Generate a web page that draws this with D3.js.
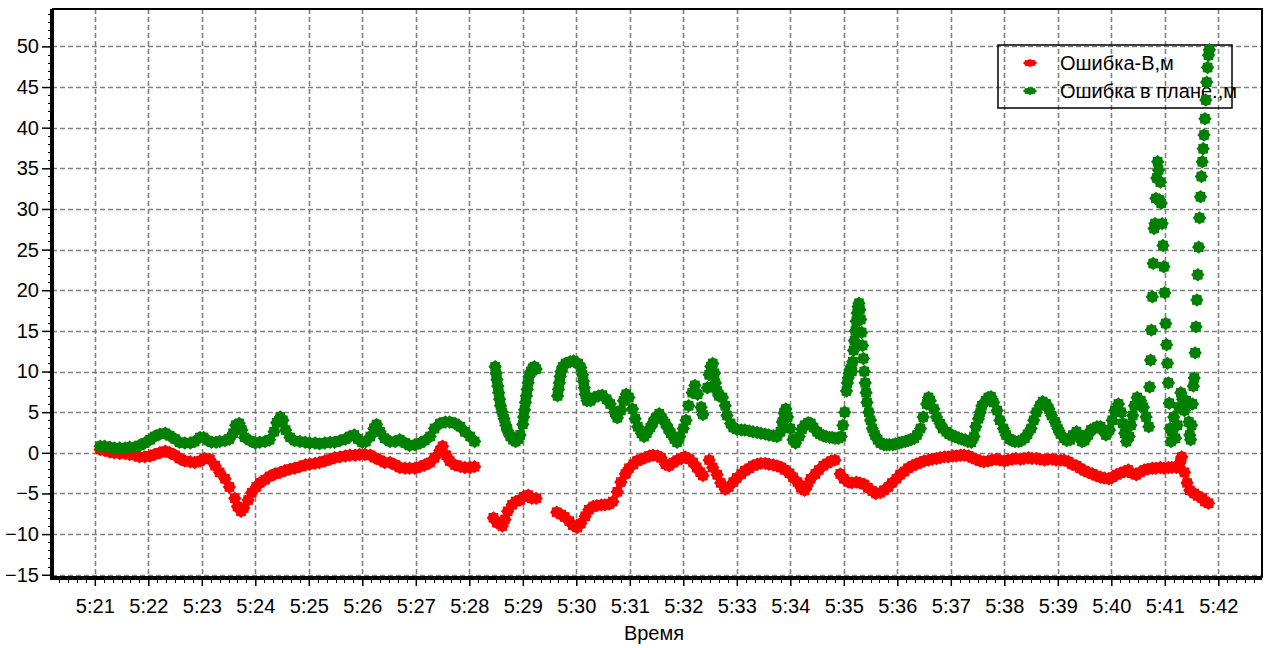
<!DOCTYPE html>
<html lang="ru">
<head>
<meta charset="utf-8">
<title>Ошибка</title>
<script src="https://d3js.org/d3.v7.min.js"></script>
<style>
  body { margin: 0; background: #fff; }
  svg text { font-family: "Liberation Sans", Arial, sans-serif; font-size: 20px; fill: #000; }
</style>
</head>
<body>
<svg id="chart" width="1273" height="648"></svg>
<script>
// [seconds after 5:21:00, error in metres]
const errHeight = [
  [6,0.4],[11,0.3],[17,0.1],[22,0],[28,-0.1],[34,-0.1],[39,-0.2],[45,-0.3],[50,-0.5],[56,-0.5],
  [62,-0.4],[67,-0.2],[73,0],[79,0.2],[84,0],[90,-0.3],[95,-0.7],[101,-1],[107,-1.1],[112,-1.2],
  [118,-1],[123,-0.7],[129,-0.8],[135,-1.6],[140,-2.4],[146,-3.2],[151,-4.2],[157,-5.6],[160,-6.6],[164,-7.2],
  [167,-6.8],[172,-5.8],[176,-4.9],[181,-4.2],[185,-3.7],[191,-3.3],[196,-2.9],[202,-2.6],[208,-2.4],[213,-2.2],
  [219,-2],[224,-1.9],[230,-1.7],[236,-1.5],[241,-1.4],[247,-1.3],[252,-1.2],[258,-1],[264,-0.8],[269,-0.6],
  [275,-0.5],[281,-0.4],[286,-0.3],[292,-0.3],[297,-0.2],[303,-0.2],[309,-0.3],[314,-0.6],[320,-0.9],[325,-1.2],
  [331,-1.2],[337,-1.5],[342,-1.8],[348,-1.9],[353,-1.9],[359,-1.9],[365,-1.7],[370,-1.5],[376,-1.2],[381,-0.6],
  [387,0.3],[390,0.8],[394,-0.3],[398,-1],[404,-1.5],[410,-1.7],[415,-1.8],[421,-1.8],[426,-1.7],
  [447,-8],[451,-8.6],[457,-9],[460,-8.2],[463,-7.2],[468,-6.4],[472,-6],[477,-5.8],[481,-5.4],[486,-5.2],
  [490,-5.6],[495,-5.6],
  [518,-7.3],[523,-7.6],[527,-7.9],[532,-8.4],[536,-8.9],[541,-9.2],[545,-8.7],[550,-7.8],[554,-7],[559,-6.6],
  [563,-6.5],[568,-6.4],[572,-6.4],[577,-6.3],[581,-6],[586,-4.8],[590,-3.6],[595,-2.6],[599,-1.9],[604,-1.4],
  [608,-1],[613,-0.8],[617,-0.6],[622,-0.4],[626,-0.3],[631,-0.4],[635,-0.6],[640,-1.4],[644,-1.6],[649,-1.2],
  [653,-0.9],[658,-0.7],[662,-0.5],[667,-0.8],[671,-1.2],[675,-1.8],[679,-2.4],[682,-2.8],
  [689,-0.9],[693,-1.8],[698,-2.7],[702,-3.7],[707,-4.5],[711,-4.2],[716,-3.6],[720,-3.1],[725,-2.6],[729,-2.2],
  [734,-1.9],[738,-1.6],[743,-1.4],[747,-1.3],[752,-1.3],[756,-1.4],[761,-1.5],[765,-1.6],[770,-1.8],[774,-2.1],
  [779,-2.5],[783,-3],[788,-3.6],[792,-4.3],[796,-4.6],[799,-4],[803,-3.2],[808,-2.6],[812,-2.1],[817,-1.6],
  [821,-1.3],[826,-1],[830,-0.9],
  [836,-2.6],[840,-3.2],[845,-3.6],[849,-3.7],[854,-3.6],[858,-3.7],[863,-3.9],[867,-4.3],[872,-4.7],[876,-5],
  [881,-4.9],[885,-4.6],[890,-4.2],[894,-3.7],[899,-3.2],[903,-2.7],[908,-2.3],[912,-1.9],[917,-1.6],[921,-1.4],
  [926,-1.2],[930,-1],[935,-0.9],[939,-0.8],[944,-0.7],[948,-0.6],[953,-0.5],[957,-0.5],[962,-0.4],[966,-0.4],
  [971,-0.3],[975,-0.3],[980,-0.4],[984,-0.6],[988,-0.8],[993,-1],[997,-1.1],[1002,-1],[1006,-0.9],[1011,-0.8],
  [1015,-0.9],[1020,-1],[1024,-0.9],[1029,-0.8],[1033,-0.7],[1038,-0.8],[1042,-0.7],[1047,-0.6],[1051,-0.7],[1056,-0.7],
  [1060,-0.8],[1065,-0.9],[1069,-0.8],[1074,-0.8],[1078,-0.9],[1083,-0.9],[1087,-0.9],[1092,-1.1],[1096,-1.4],[1101,-1.6],
  [1105,-1.9],[1110,-2.2],[1114,-2.4],[1119,-2.6],[1123,-2.8],[1128,-3],[1132,-3.1],[1137,-3.2],[1141,-3],[1146,-2.7],
  [1150,-2.5],[1155,-2.3],[1159,-2.1],[1163,-2.5],[1168,-2.7],[1172,-2.4],[1177,-2.1],[1181,-2],[1186,-1.9],[1190,-1.9],
  [1195,-1.8],[1199,-1.9],[1204,-1.8],[1208,-1.8],[1213,-1.8],[1217,-1.2],[1219,-0.5],[1222,-2.4],[1225,-3.7],[1228,-4.6],
  [1233,-5],[1237,-5.3],[1242,-5.6],[1245,-6],[1249,-6.2]
];

const errPlan = [
  [6,0.8],[11,0.8],[17,0.7],[22,0.6],[28,0.6],[34,0.6],[39,0.7],[45,0.7],[50,0.9],[56,1.2],
  [62,1.6],[67,2],[73,2.3],[79,2.4],[84,2.1],[90,1.7],[95,1.3],[101,1.2],[107,1.2],[112,1.4],
  [118,1.9],[122,1.9],[127,1.5],[131,1.3],[136,1.3],[140,1.4],[146,1.5],[151,1.7],[155,2.4],[158,3.4],
  [162,3.6],[165,2.8],[168,1.9],[174,1.5],[180,1.2],[185,1.3],[191,1.4],[196,1.6],[201,2.6],[204,3.7],
  [208,4.4],[211,4],[214,2.8],[219,1.9],[224,1.5],[230,1.4],[236,1.3],[241,1.2],[247,1.2],[252,1.1],
  [258,1.2],[264,1.3],[269,1.3],[275,1.5],[281,1.7],[286,2],[291,2.2],[295,1.7],[300,1.3],[304,1.4],
  [309,2],[313,3],[316,3.5],[320,2.6],[325,1.8],[331,1.4],[337,1.4],[342,1.6],[348,1.2],[353,0.9],
  [359,1],[365,1.2],[370,1.5],[376,2],[381,3],[387,3.6],[393,3.8],[398,3.8],[404,3.6],[410,3.2],
  [415,2.6],[421,2],[426,1.4],
  [449,10.6],[450,9.8],[451,9],[452,8.2],[453,7.4],[454,6.6],[455,5.8],[457,5],[459,4.2],[461,3.4],
  [463,2.7],[466,2],[469,1.6],[472,1.4],[475,1.7],[477,2.2],
  [480,3.5],[481,4.4],[482,5.3],[483,6.2],[484,7],[485,7.8],[486,8.6],[487,9.4],[489,10],[491,10.4],
  [493,10.6],[495,10.3],
  [519,7],[520,7.8],[521,8.6],[522,9.4],[523,10],[525,10.6],[528,11],[533,11.2],[537,11.3],[542,11],
  [545,10.5],[547,9.6],[548,8.8],[549,8],[550,7.2],[552,6.4],[556,6.4],[560,6.8],[565,7],[569,7.1],
  [574,6.6],[578,6],[583,5],[586,4.3],[590,5.2],[593,6.4],[596,7.2],[599,6.8],[603,5.4],[606,4.2],
  [609,3.2],[613,2.4],[616,2],[619,2.4],[623,3.1],[626,3.7],[629,4.3],[633,4.8],[636,4.3],[640,3.6],
  [643,3],[646,2.4],[650,1.7],[653,1.3],[656,2],[660,3],[663,4],[666,5.8],[670,7.4],[673,8.3],
  [676,7.2],[680,5.6],[682,4.7],
  [687,8],[689,9.6],[691,10.6],[693,11],[695,9.8],[696,8.6],[698,7.6],[700,7],[704,6.8],[707,5.8],
  [709,4.6],[713,3.6],[716,3.1],[720,2.9],[725,2.8],[729,2.8],[734,2.7],[738,2.6],[743,2.5],[747,2.4],
  [752,2.3],[756,2.2],[761,2.1],[765,2],[769,2.6],[771,3.8],[773,4.9],[775,5.4],[777,4.4],[780,3],
  [783,1.6],[786,1.2],[790,2],[793,2.9],[796,3.4],[800,3.7],[803,3.6],[806,3.1],[810,2.6],[813,2.3],
  [817,2.1],[820,2],[824,1.9],[827,1.9],[830,1.8],[834,1.8],[837,2],[839,3.4],[841,5],[843,7.6],
  [844,8.6],[845,9.2],[846,9.8],[847,10.2],[848,10.4],[849,10],[850,11.2],[851,12.6],[852,13.8],[853,15],
  [854,16.2],[855,17.2],[856,18],[857,18.4],[858,17.6],[859,16.4],[860,14.8],[861,13.2],[862,11.6],[863,10],
  [864,8.6],[865,7.4],[866,6.2],[868,5],[870,4],[872,3],[875,2.2],[878,1.6],[881,1.2],[885,1],
  [888,1],[891,1],[895,1],[898,1.1],[902,1.2],[905,1.3],[909,1.4],[912,1.5],[915,1.6],[919,1.8],
  [922,2.2],[926,3],[929,4.4],[933,6],[935,6.8],[937,6.4],[941,5.4],[944,4.4],[948,3.6],[951,3],
  [955,2.6],[958,2.3],[962,2.1],[965,2],[969,1.8],[972,1.7],[976,1.6],[979,1.4],[983,1.3],[986,2],
  [988,3.2],[991,4.2],[993,5],[995,5.8],[999,6.4],[1002,6.8],[1005,6.9],[1008,6.2],[1012,5.2],[1015,4],
  [1019,3],[1022,2.2],[1026,1.7],[1029,1.5],[1032,1.4],[1036,1.4],[1039,1.5],[1043,1.8],[1046,2.3],[1050,3],
  [1053,4],[1056,5],[1060,5.8],[1063,6.3],[1067,6],[1070,5.4],[1073,4.6],[1077,3.8],[1080,3],[1083,2.3],
  [1087,1.8],[1090,1.5],[1094,1.6],[1097,2.2],[1101,2.6],[1104,2.2],[1107,1.4],[1110,1.5],[1114,2.2],[1117,2.8],
  [1121,3],[1124,3.2],[1128,3.2],[1131,2.8],[1134,2.2],[1138,2.8],[1141,4],[1144,5.2],[1148,6],[1151,5],
  [1153,3.6],[1155,2.4],[1157,1.4],[1160,2],[1162,3.4],[1164,4.6],[1166,5.8],[1169,6.8],[1173,6.4],[1176,5.6],
  [1179,4.4],[1182,3.2],
  [1183,8.1],[1184,11.4],[1185,15.1],[1186,19.2],[1187,23.3],[1188,27.6],[1189,28.2],[1190,31.3],[1191,33.8],[1192,35.8],
  [1193,34.8],[1194,31.1],[1195,33.3],[1196,30.7],[1197,28.2],[1198,25.5],[1199,22.9],[1200,19.7],[1201,15.9],[1202,13.3],
  [1203,11],[1204,8.6],[1205,6.1],[1206,3],[1207,1.4],[1208,2.6],[1210,4.4],[1212,1.8],[1214,3.4],[1216,5.6],
  [1218,7.4],[1220,6.6],[1222,5.2],[1224,6.4],[1226,6],[1227,3.8],[1228,2.2],[1229,1.6],[1230,3.4],[1231,6],
  [1232,8.2],[1233,9.2],[1234,12.3],[1235,15.5],[1236,18.8],[1237,21.9],[1238,25.3],[1239,28.9],[1240,31.5],[1241,34],
  [1242,35.8],[1243,37.4],[1244,39.1],[1245,41.1],[1246,43.4],[1247,45.6],[1248,47.4],[1249,48.9],[1250,49.6]
];

const yTicks = [-15, -10, -5, 0, 5, 10, 15, 20, 25, 30, 35, 40, 45, 50];
const seriesNames = ['Ошибка-В,м', 'Ошибка в плане.,м'];
const seriesColors = ['#ff0000', '#008000'];
const xTitle = 'Время';

const plotL = 52, plotR = 1262, plotT = 9, plotB = 578;
const t0 = new Date(2000, 0, 1, 5, 21, 0);
const toDate = s => new Date(t0.getTime() + s * 1000);

const x = d3.scaleTime().domain([toDate(-48), toDate(1309)]).range([plotL, plotR]);
const y = d3.scaleLinear().domain([-15.4, 54.6]).range([plotB, plotT]);

const svg = d3.select('#chart');

// grid
const minutes = x.ticks(d3.timeMinute.every(1));
const grid = svg.append('g')
  .attr('stroke', '#808080')
  .attr('stroke-width', 1.6)
  .attr('stroke-dasharray', '5,3');
grid.selectAll('.gx').data(minutes).enter().append('line')
  .attr('x1', d => Math.round(x(d)) + 0.5).attr('x2', d => Math.round(x(d)) + 0.5)
  .attr('y1', plotT).attr('y2', plotB);
grid.selectAll('.gy').data(yTicks).enter().append('line')
  .attr('x1', plotL).attr('x2', plotR)
  .attr('y1', d => Math.round(y(d)) + 0.5).attr('y2', d => Math.round(y(d)) + 0.5);

// legend (transparent, grid shows through)
const legend = svg.append('g');
legend.append('rect')
  .attr('x', 998).attr('y', 45).attr('width', 234).attr('height', 63)
  .attr('fill', 'none').attr('stroke', '#000').attr('stroke-width', 1.5);

// 8-point star marker
const star8 = {
  draw(ctx, r) {
    for (let i = 0; i < 16; i++) {
      const a = i * Math.PI / 8;
      const rr = i % 2 ? r * 0.8 : r;
      if (i === 0) ctx.moveTo(0, -rr);
      else ctx.lineTo(rr * Math.sin(a), -rr * Math.cos(a));
    }
    ctx.closePath();
  }
};
const marker = d3.symbol(star8, 6.7)();

seriesNames.forEach((name, i) => {
  const ly = 63 + i * 28;
  legend.append('path')
    .attr('d', marker)
    .attr('transform', `translate(1030,${ly}) scale(1.1,0.6)`)
    .attr('fill', seriesColors[i]);
  legend.append('text')
    .attr('x', 1060).attr('y', ly).attr('dy', '0.36em')
    .text(name);
});

// axes
const yAxis = d3.axisLeft(y).tickValues(yTicks).tickSize(10).tickSizeOuter(0).tickPadding(3);
const gy = svg.append('g').attr('transform', `translate(${plotL},0)`).call(yAxis);
gy.selectAll('.tick line').attr('stroke-width', 1.5);
gy.selectAll('text').style('font-size', '20px').style('font-family', '"Liberation Sans", Arial, sans-serif');
gy.select('.domain').remove();
svg.append('g').selectAll('line').data(d3.range(-15, 55, 1)).enter().append('line')
  .attr('x1', plotL - 4).attr('x2', plotL)
  .attr('y1', d => Math.round(y(d)) + 0.5).attr('y2', d => Math.round(y(d)) + 0.5)
  .attr('stroke', '#000');

const xAxis = d3.axisBottom(x)
  .ticks(d3.timeMinute.every(1))
  .tickFormat(d3.timeFormat('%-H:%M'))
  .tickSize(8).tickSizeOuter(0).tickPadding(13);
const gx = svg.append('g').attr('transform', `translate(0,${plotB})`).call(xAxis);
gx.selectAll('.tick line').attr('stroke-width', 1.5);
gx.selectAll('text').style('font-size', '20px').style('font-family', '"Liberation Sans", Arial, sans-serif');
gx.select('.domain').remove();
svg.append('g').selectAll('line').data(x.ticks(d3.timeSecond.every(10))).enter().append('line')
  .attr('x1', d => Math.round(x(d)) + 0.5).attr('x2', d => Math.round(x(d)) + 0.5)
  .attr('y1', plotB).attr('y2', plotB + 5)
  .attr('stroke', '#000');

// frame
svg.append('path')
  .attr('d', `M${plotL},${plotT}H${plotR}V${plotB}`)
  .attr('fill', 'none').attr('stroke', '#000').attr('stroke-width', 2);
svg.append('path')
  .attr('d', `M${plotL},${plotT}V${plotB}H${plotR}`)
  .attr('fill', 'none').attr('stroke', '#000').attr('stroke-width', 4);

svg.append('text')
  .attr('x', 654).attr('y', 640)
  .attr('text-anchor', 'middle')
  .text(xTitle);

// points
[errHeight, errPlan].forEach((data, i) => {
  svg.append('g').attr('fill', seriesColors[i])
    .selectAll('path').data(data).enter().append('path')
    .attr('d', marker)
    .attr('transform', d => `translate(${x(toDate(d[0]))},${y(d[1])})`);
});
</script>
</body>
</html>
